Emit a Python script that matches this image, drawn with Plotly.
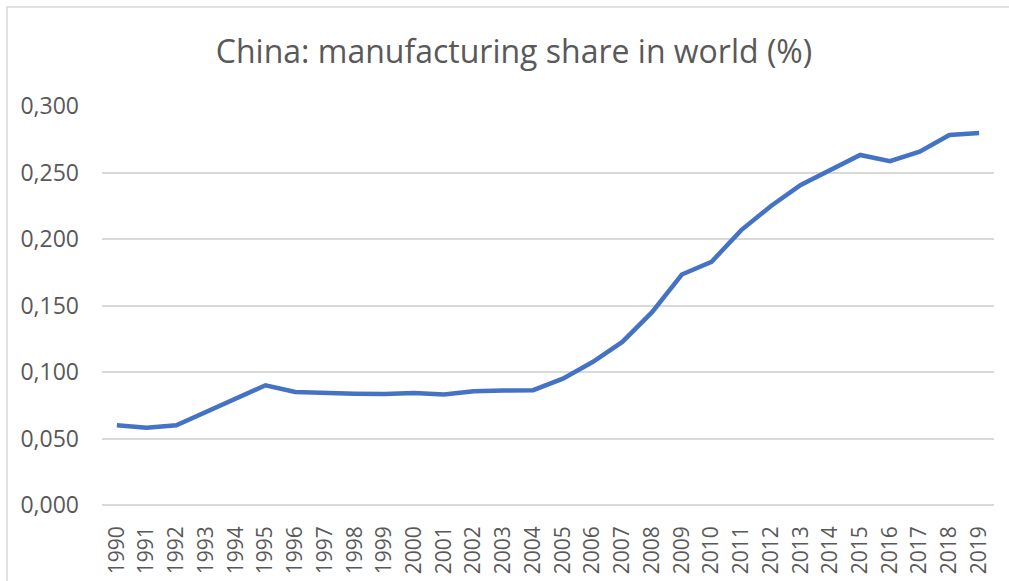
import plotly.graph_objects as go

# China's share of world manufacturing output, 1990-2019
years = [str(y) for y in range(1990, 2020)]
share = [0.060, 0.058, 0.060, 0.070, 0.080, 0.090, 0.085, 0.084, 0.0837, 0.0834,
         0.0843, 0.083, 0.0855, 0.086, 0.0863, 0.095, 0.1075, 0.1226, 0.145, 0.1733,
         0.1828, 0.2067, 0.2248, 0.2406, 0.2519, 0.2632, 0.2585, 0.2657, 0.2782, 0.2797]
y_ticks = [0.0, 0.05, 0.10, 0.15, 0.20, 0.25, 0.30]

W, H = 1009, 581
L, R, T, B = 102, 15, 106, 76
grey_text = "#595959"
grid = "#d9d9d9"
font_family = "Open Sans, Lato, sans-serif"

fig = go.Figure()
fig.add_trace(go.Scatter(
    x=years, y=share, mode="lines",
    line=dict(color="#4472C4", width=4.5, shape="linear"),
    hoverinfo="x+y", showlegend=False,
))

pw = W - L - R
ph = H - T - B
# Outer chart border (only top and left edges fall inside the canvas)
fig.add_shape(type="rect", xref="paper", yref="paper",
              x0=(7 - L) / pw, x1=(W + 20 - L) / pw,
              y0=(H - B - (H + 20)) / ph, y1=(H - B - 7) / ph,
              line=dict(color=grid, width=1.5), fillcolor="rgba(0,0,0,0)", layer="below")

fig.update_layout(
    width=W, height=H,
    margin=dict(l=L, r=R, t=T, b=B, pad=0),
    paper_bgcolor="white", plot_bgcolor="white",
    separators=",.",
    title=dict(text="China: manufacturing share in world (%)",
               x=514 / W, xanchor="center", xref="container",
               y=1 - 52 / H, yanchor="middle", yref="container",
               font=dict(family=font_family, size=32, color=grey_text)),
    font=dict(family=font_family, color=grey_text),
)
fig.update_xaxes(
    type="category", range=[-0.5, len(years) - 0.5],
    showgrid=False, zeroline=False, showline=False,
    tickangle=-90, tickfont=dict(size=21, color=grey_text),
    ticks="", ticklabelstandoff=16, fixedrange=True, automargin=False,
)
fig.update_yaxes(
    range=[0, 0.3], tickvals=y_ticks, tickformat=".3f",
    showgrid=True, gridcolor=grid, gridwidth=1.5,
    zeroline=True, zerolinecolor=grid, zerolinewidth=1.5,
    showline=False, ticks="", ticklabelstandoff=22,
    tickfont=dict(size=23, color=grey_text), fixedrange=True, automargin=False,
)

fig.write_html("out.html")
